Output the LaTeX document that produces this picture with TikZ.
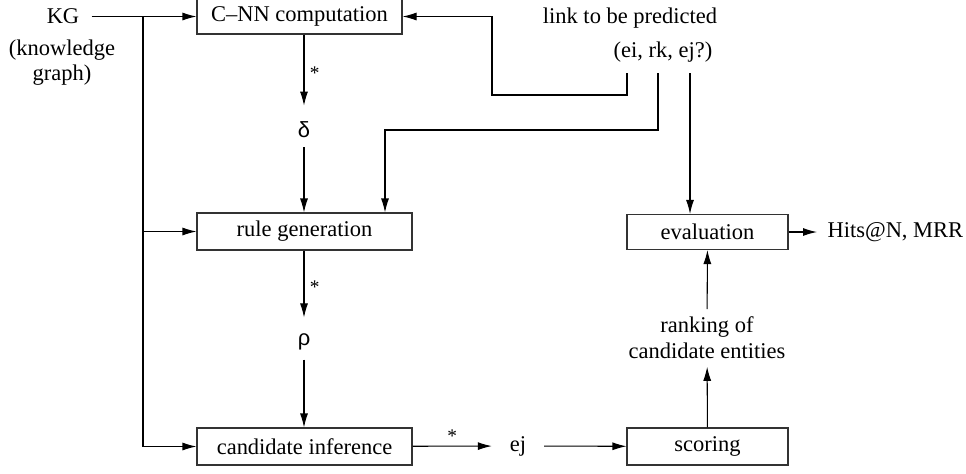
\documentclass[tikz,border=0pt]{standalone}
\usepackage{fontspec}
\setmainfont{Liberation Serif}
\newfontfamily\symfont{Liberation Sans}
\usetikzlibrary{arrows.meta}

\tikzset{
  blk/.style={draw=black!80, line width=0.6pt, minimum height=0.7cm, inner sep=0pt},
  lbl/.style={inner sep=1pt},
  sym/.style={inner xsep=1pt, inner ysep=5pt, font=\fontsize{12.5}{15}\symfont},
  star/.style={right, inner sep=3pt, font=\fontsize{11}{12}\selectfont}
}

\begin{document}
\begin{tikzpicture}[>={Latex[length=2.8mm,width=1.6mm]}, line width=0.6pt, font=\fontsize{12.8}{15}\selectfont]
    \useasboundingbox (0cm,0cm) rectangle (19.32cm,-9.46cm);
    % input graph
    \node[lbl] (kg) at (1.26cm,-0.33cm) {KG};
    \node[lbl, align=center] (kgnote) at (1.24cm,-1.25cm) {(knowledge\\[-1pt]graph)};
    \coordinate (split) at (2.86cm,-0.33cm);
    % boxes
    \node[blk, minimum width=4.1cm]  (cnn)   at ( 5.99cm,-0.33cm) {C--NN computation};
    \node[blk, minimum width=4.3cm, minimum height=0.74cm] (rule) at ( 6.09cm,-4.63cm) {rule generation};
    \node[blk, minimum width=4.3cm, minimum height=0.74cm] (cand) at ( 6.09cm,-8.93cm) {candidate inference};
    \node[blk, minimum width=3.22cm] (eval)  at (14.15cm,-4.64cm) {evaluation};
    \node[blk, minimum width=3.22cm, minimum height=0.74cm] (score) at (14.15cm,-8.93cm) {scoring};
    % intermediate results
    \node[sym] (delta) at ( 6.08cm,-2.60cm) {δ};
    \node[sym] (rho)   at ( 6.08cm,-6.84cm) {ρ};
    \node[lbl, inner xsep=10pt] (ej) at (10.36cm,-8.92cm) {ej};
    \node[lbl, inner ysep=4pt, align=center] (rank) at (14.14cm,-6.76cm) {ranking of\\candidate entities};
    \node[lbl, inner sep=0pt, anchor=west] (hits) at (16.54cm,-4.64cm) {Hits@N, MRR};
    % query
    \node[lbl] (link)   at (12.60cm,-0.36cm) {link to be predicted};
    \node[lbl] (triple) at (13.26cm,-1.04cm) {(ei, rk, ej?)};
    \coordinate (ei)  at (12.54cm,-1.46cm);
    \coordinate (rk)  at (13.16cm,-1.46cm);
    \coordinate (ejq) at (13.80cm,-1.46cm);
    \coordinate (eibend) at ( 9.84cm,-1.90cm);
    \coordinate (rkbend) at ( 7.70cm,-2.60cm);

    \draw[->] (kg.east) ++(0.2cm,0) -- (cnn.west);
    \draw[->] (split) |- (cand.west);
    \draw[->] (split |- rule.west) -- (rule.west);
    \draw[->, shorten >=4pt] (cnn.south -| delta) -- node[star]{*} (delta);
    \draw[->] (delta) -- (rule.north -| delta);
    \draw[->, shorten >=4pt] (rule.south -| rho) -- node[star]{*} (rho);
    \draw[->] (rho) -- (cand.north -| rho);
    \draw[->] (cand) -- node[above, inner sep=2pt, font=\fontsize{11}{12}\selectfont]{*} (ej);
    \draw[->] (ej) -- (score);
    \draw[->] (score) -- (rank);
    \draw[->] (rank) -- (eval);
    \draw[->, shorten >=0.2cm] (eval) -- (hits);
    \draw[->] (ei) |- (eibend) |- (cnn.east);
    \draw[->] (rk) |- (rkbend) -- (rkbend |- rule.north);
    \draw[->] (ejq) -- (ejq |- eval.north);
\end{tikzpicture}
\end{document}
